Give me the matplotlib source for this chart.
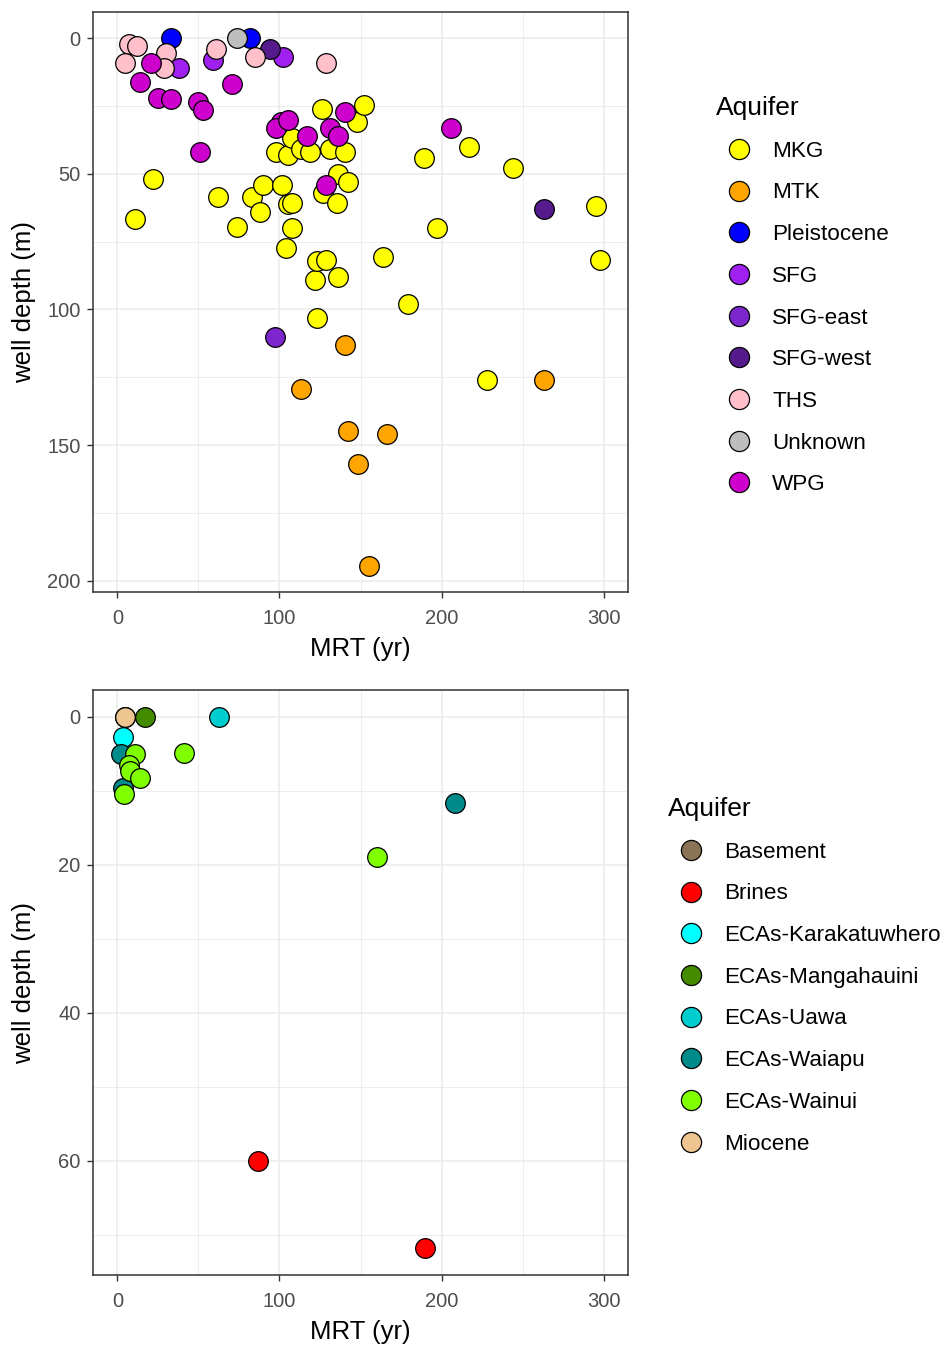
import matplotlib
matplotlib.use("Agg")
import matplotlib.pyplot as plt
from matplotlib.lines import Line2D

plt.rcParams['font.family'] = ['Liberation Sans', 'DejaVu Sans']

# MRT (yr) and well depth (m) per aquifer, upper panel
top_aquifers = ["MKG", "MTK", "Pleistocene", "SFG", "SFG-east", "SFG-west", "THS", "Unknown", "WPG"]
top_colors = ["#FFFF00", "#FFA500", "#0000FF", "#A020F0", "#7D26CD", "#551A8B", "#FFC0CB", "#BEBEBE", "#CD00CD"]
top_mrt = {
    "MKG": [11, 22, 62, 74, 83, 88, 90, 98, 101.5, 104, 105, 105, 108, 108, 108, 113, 119, 122, 123, 123,
            126, 127, 129, 131, 135.6, 136, 136, 140.5, 142, 148, 152, 164, 179, 189, 197, 217, 228, 244, 295, 298],
    "MTK": [140.5, 113, 142, 166.5, 148.6, 155, 263],
    "Pleistocene": [33, 82],
    "SFG": [38, 59, 102],
    "SFG-east": [97],
    "SFG-west": [94, 263],
    "THS": [7, 12, 5, 30, 29, 61, 85, 129],
    "Unknown": [74],
    "WPG": [21, 14, 25, 33, 49.5, 52.6, 71, 101, 51, 98, 105, 117, 131, 136, 140.5, 129, 206],
}
top_depth = {
    "MKG": [66.5, 52, 58.5, 69.5, 58.5, 64, 54, 42, 54, 77.5, 43, 61, 60.7, 36.7, 70, 41, 42, 89, 82, 103,
            26, 57, 81.6, 41, 60.7, 50, 88, 42, 53, 31, 24.6, 80.5, 98, 44, 70, 40, 126, 48, 62, 81.6],
    "MTK": [113, 129.5, 145, 146, 157, 194.5, 126],
    "Pleistocene": [0, 0],
    "SFG": [11, 8, 7],
    "SFG-east": [110],
    "SFG-west": [4, 63],
    "THS": [2.2, 3, 9, 5.5, 11, 4, 7, 9],
    "Unknown": [0],
    "WPG": [9, 16, 22, 22.5, 23.5, 26.5, 17, 31, 42, 33, 30, 36, 33, 36, 27, 54, 33],
}

# lower panel
bot_aquifers = ["Basement", "Brines", "ECAs-Karakatuwhero", "ECAs-Mangahauini", "ECAs-Uawa",
                "ECAs-Waiapu", "ECAs-Wainui", "Miocene"]
bot_colors = ["#8B7355", "#FF0000", "#00FFFF", "#458B00", "#00CDCD", "#008B8B", "#7FFF00", "#EEC591"]
bot_mrt = {
    "Basement": [5],
    "Brines": [86.7, 190],
    "ECAs-Karakatuwhero": [3.7],
    "ECAs-Mangahauini": [17],
    "ECAs-Uawa": [62.5],
    "ECAs-Waiapu": [2.5, 3.7, 208],
    "ECAs-Wainui": [11, 7.4, 8, 14, 4.3, 41, 160],
    "Miocene": [5],
}
bot_depth = {
    "Basement": [0],
    "Brines": [60, 71.8],
    "ECAs-Karakatuwhero": [2.7],
    "ECAs-Mangahauini": [0],
    "ECAs-Uawa": [0],
    "ECAs-Waiapu": [5, 9.6, 11.7],
    "ECAs-Wainui": [5, 6.5, 7.4, 8.3, 10.5, 4.9, 19],
    "Miocene": [0],
}

fig = plt.figure(figsize=(9.44, 13.45), dpi=100)
ax1 = fig.add_axes([93/944, 1-592/1345, 535/944, 580/1345])
ax2 = fig.add_axes([93/944, 1-1275/1345, 535/944, 585/1345])


def style_panel(ax, yticks, yminor, ylim):
    ax.set_facecolor("white")
    ax.set_xlim(-15, 315)
    ax.set_ylim(ylim[1], ylim[0])
    ax.set_xticks([0, 100, 200, 300])
    ax.set_xticks([50, 150, 250], minor=True)
    ax.set_yticks(yticks)
    ax.set_yticks(yminor, minor=True)
    ax.grid(True, which="major", color="#EBEBEB", lw=1.1)
    ax.grid(True, which="minor", color="#EBEBEB", lw=0.6)
    ax.set_axisbelow(True)
    for s in ax.spines.values():
        s.set_color("#333333")
        s.set_linewidth(1.1)
    ax.tick_params(which="major", length=4, width=1, color="#333333", labelsize=14.5,
                   labelcolor="#4D4D4D")
    ax.tick_params(axis="x", pad=8)
    ax.tick_params(axis="y", pad=5)
    ax.tick_params(which="minor", length=0)
    ax.set_xlabel("MRT (yr)", fontsize=18.5, color="black", labelpad=7)
    ax.set_ylabel("well depth (m)", fontsize=18.5, color="black")
    # keep both y titles on the same vertical line
    ax.yaxis.set_label_coords(-0.106, 0.5)


def draw_points(ax, names, colors, xs, ys, legend_xy):
    handles = []
    for name, col in zip(names, colors):
        ax.scatter(xs[name], ys[name], s=200, c=col, edgecolors="black", linewidths=0.9, zorder=3)
        handles.append(Line2D([], [], marker="o", ls="", markersize=14.5, markerfacecolor=col,
                              markeredgecolor="black", markeredgewidth=0.9, label=name))
    leg = fig.legend(handles=handles, title="Aquifer", loc="upper left", bbox_to_anchor=legend_xy,
                     frameon=False, fontsize=16.2, title_fontsize=19, labelspacing=0.92,
                     handletextpad=0.5, handlelength=2.0, borderpad=0, borderaxespad=0)
    leg._legend_box.align = "left"
    return leg


style_panel(ax1, [0, 50, 100, 150, 200], [25, 75, 125, 175], (-9.7, 204.2))
style_panel(ax2, [0, 20, 40, 60], [10, 30, 50, 70], (-3.6, 75.4))

draw_points(ax1, top_aquifers, top_colors, top_mrt, top_depth, (716/944, 1-96/1345))
draw_points(ax2, bot_aquifers, bot_colors, bot_mrt, bot_depth, (668/944, 1-797/1345))

fig.savefig("out.png", dpi=100, facecolor="white")
